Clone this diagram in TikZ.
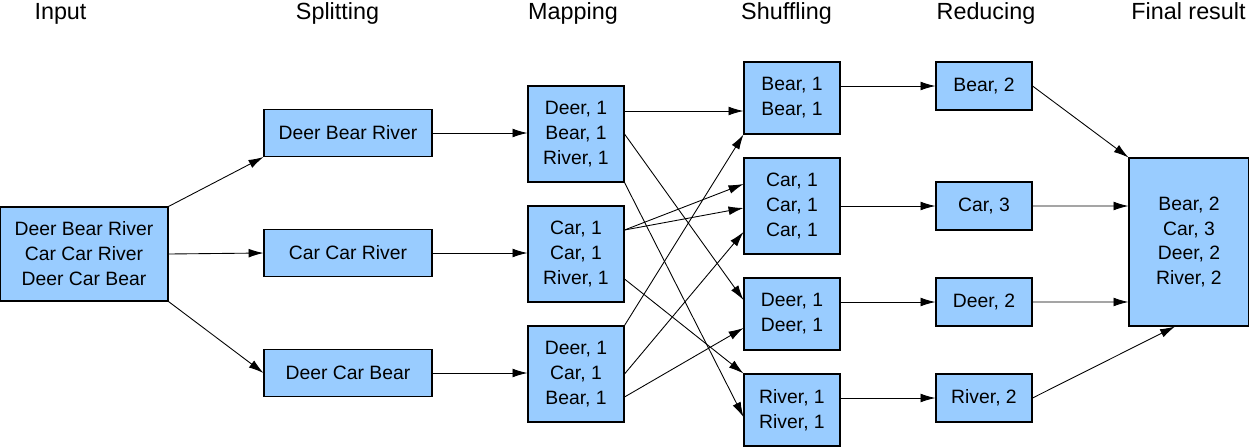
\documentclass[tikz,border=0pt]{standalone}
\usepackage{fontspec}
\setmainfont{Liberation Sans}
\usetikzlibrary{arrows.meta}

\begin{document}
\begin{tikzpicture}[
		x=0.02cm, y=-0.02cm,
		bx/.style={draw, line width=0.6pt, fill=boxblue, inner sep=0pt, align=center,
			font=\fontsize{11}{14.2}\selectfont},
		hd/.style={anchor=base, font=\fontsize{13.3}{16}\selectfont},
		>={Latex[length=8.5pt,width=5pt]},
		every path/.style={line width=0.5pt}]
	\definecolor{boxblue}{HTML}{99CCFF}
	\useasboundingbox (0,0) rectangle (1249,447);
	%% define titles
	\node (hin) at (60.5,19) [hd] {Input};
	\node (hsp) at (337.5,19) [hd] {Splitting};
	\node (hmap) at (573,19) [hd] {Mapping};
	\node (hsh) at (786.5,19) [hd] {Shuffling};
	\node (hrd) at (986,19) [hd] {Reducing};
	\node (hfin) at (1188.5,19) [hd] {Final result};
	%% define boxes
	\node (in) at (84,254) [bx, minimum width=3.36cm, minimum height=1.88cm] {Deer Bear River\\Car Car River\\Deer Car Bear};
	\node (sp1) at (348,133) [bx, minimum width=3.36cm, minimum height=0.94cm] {Deer Bear River};
	\node (sp2) at (348,253) [bx, minimum width=3.36cm, minimum height=0.94cm] {Car Car River};
	\node (sp3) at (348,373) [bx, minimum width=3.36cm, minimum height=0.94cm] {Deer Car Bear};
	\node (map1) at (576,134) [bx, minimum width=1.92cm, minimum height=1.92cm] {Deer, 1\\Bear, 1\\River, 1};
	\node (map2) at (576,254) [bx, minimum width=1.92cm, minimum height=1.92cm] {Car, 1\\Car, 1\\River, 1};
	\node (map3) at (576,374) [bx, minimum width=1.92cm, minimum height=1.92cm] {Deer, 1\\Car, 1\\Bear, 1};
	\node (sh1) at (792,98) [bx, minimum width=1.92cm, minimum height=1.44cm] {Bear, 1\\Bear, 1};
	\node (sh2) at (792,206) [bx, minimum width=1.92cm, minimum height=1.92cm] {Car, 1\\Car, 1\\Car, 1};
	\node (sh3) at (792,314) [bx, minimum width=1.92cm, minimum height=1.44cm] {Deer, 1\\Deer, 1};
	\node (sh4) at (792,410) [bx, minimum width=1.92cm, minimum height=1.44cm] {River, 1\\River, 1};
	\node (rd1) at (984,86) [bx, minimum width=1.92cm, minimum height=0.96cm] {Bear, 2};
	\node (rd2) at (984,206) [bx, minimum width=1.92cm, minimum height=0.96cm] {Car, 3};
	\node (rd3) at (984,302) [bx, minimum width=1.92cm, minimum height=0.96cm] {Deer, 2};
	\node (rd4) at (984,398) [bx, minimum width=1.92cm, minimum height=0.96cm] {River, 2};
	\node (fin) at (1189,242) [bx, minimum width=2.4cm, minimum height=3.36cm] {Bear, 2\\Car, 3\\Deer, 2\\River, 2};
	%% define arrows
	\draw[->] (in.north east) -- (sp1.south west);
	\draw[->] (in.east) -- (sp2.west);
	\draw[->] (in.south east) -- (sp3.west);
	\draw[->] (sp1.east) -- (sp1.east -| map1.west);
	\draw[->] (sp2.east) -- (sp2.east -| map2.west);
	\draw[->] (sp3.east) -- (sp3.east -| map3.west);
	% mapping -> shuffling
	\draw[->] ([yshift=0.46cm]map1.east) -- ([yshift=0.46cm]map1.east -| sh1.west);
	\draw[->] (map1.east) -- ([yshift=0.28cm]sh3.west);
	\draw[->] (map1.south east) -- ([yshift=-0.14cm]sh4.west);
	\draw[->] ([yshift=0.48cm]map2.east) -- ([yshift=0.44cm]sh2.west);
	\draw[->] ([yshift=0.48cm]map2.east) -- ([yshift=-0.04cm]sh2.west);
	\draw[->] ([yshift=-0.5cm]map2.east) -- (sh4.north west);
	\draw[->] (map3.north east) -- (sh1.south west);
	\draw[->] (map3.east) -- ([yshift=-0.52cm]sh2.west);
	\draw[->] ([yshift=-0.46cm]map3.east) -- ([yshift=-0.28cm]sh3.west);
	% shuffling -> reducing
	\draw[->] (sh1.east |- rd1.west) -- (rd1.west);
	\draw[->] (sh2.east) -- (rd2.west);
	\draw[->] (sh3.east |- rd3.west) -- (rd3.west);
	\draw[->] (sh4.east |- rd4.west) -- (rd4.west);
	% reducing -> final
	\draw[->] (rd1.east) -- (fin.north west);
	\draw[->] (rd2.east) -- ([yshift=0.72cm]fin.west);
	\draw[->] (rd3.east) -- ([yshift=-1.2cm]fin.west);
	\draw[->] (rd4.east) -- ([xshift=-0.28cm]fin.south);
\end{tikzpicture}
\end{document}
